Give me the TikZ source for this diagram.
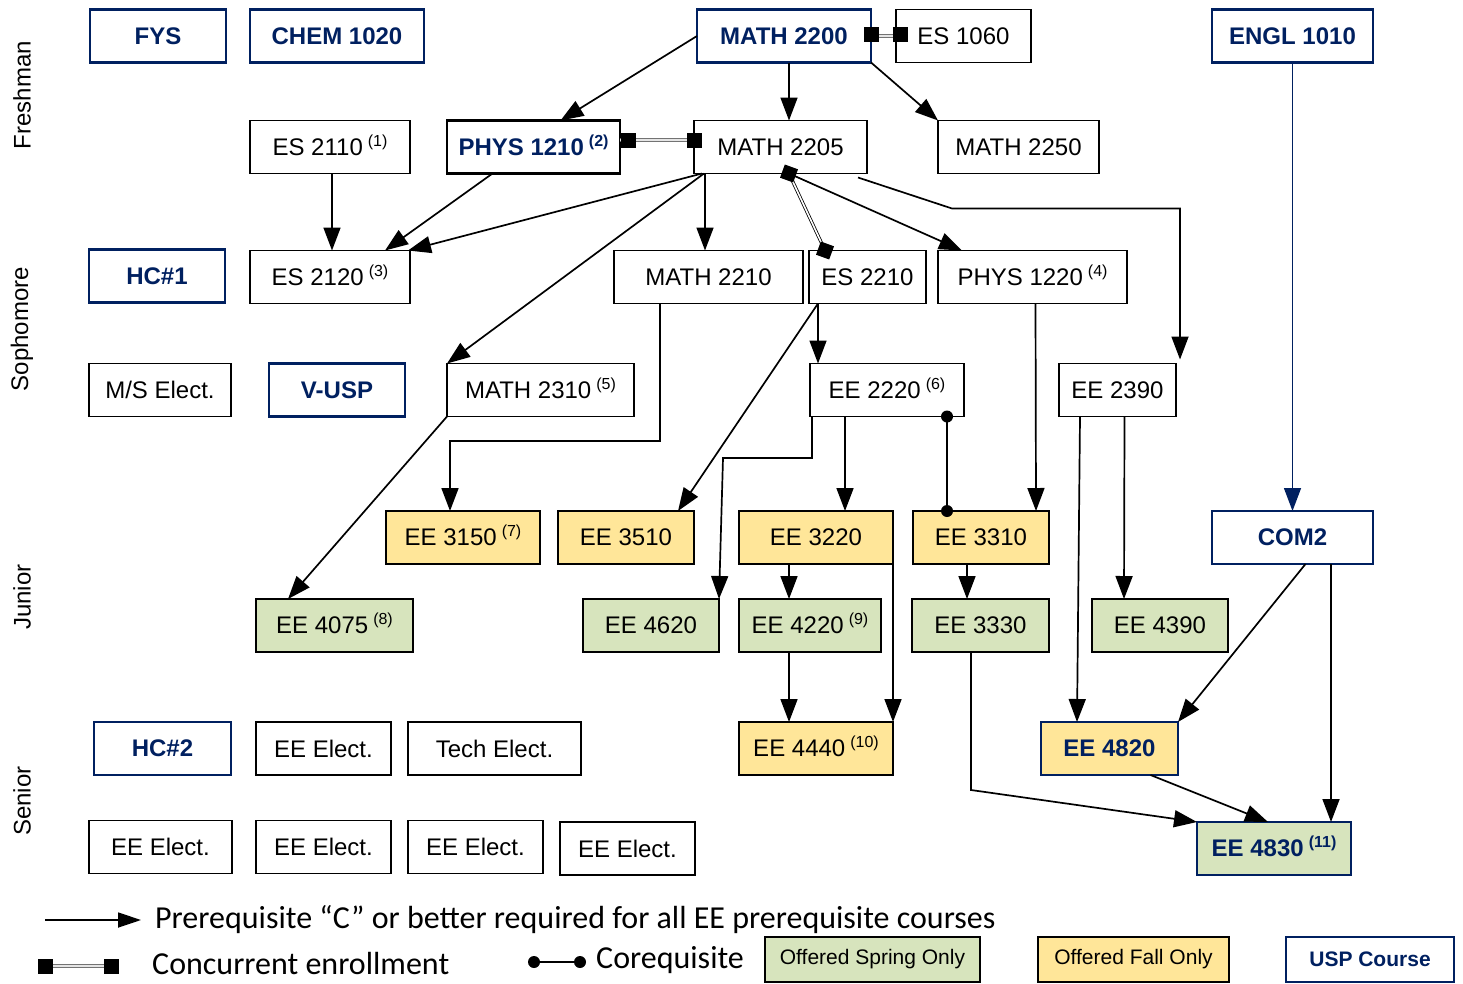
\documentclass[tikz,border=0pt]{standalone}
\usepackage{fontspec}
\setmainfont{Liberation Sans}
\newfontfamily\calib{Carlito}
\usetikzlibrary{arrows.meta,calc,shapes.geometric}
\definecolor{navy}{HTML}{002060}
\definecolor{fallc}{HTML}{FFE699}
\definecolor{springc}{HTML}{D7E4BD}
\newcommand\nsup[1]{\hspace{5pt}\smash{\raisebox{9pt}{\fontsize{16}{16}\selectfont(#1)}}}
\begin{document}
\begin{tikzpicture}[x=1pt,y=-1pt,
  course/.style={draw=black, line width=1.6pt, minimum height=53pt, inner sep=0pt, outer sep=0pt,
    fill=white, font=\fontsize{24}{28}\selectfont, minimum width=#1pt},
  course/.default=136,
  usp/.style={course=#1, draw=navy, line width=2.2pt, text=navy,
    font=\fontsize{24}{28}\selectfont\bfseries},
  usp/.default=136,
  fall/.style={fill=fallc},
  spring/.style={fill=springc},
  pre/.style={line width=1.7pt, -{Triangle[length=23pt,width=17pt]}},
  conc/.style={draw=black!55, double=white!80!gray, double distance=2pt, line width=0.9pt},
  conc2/.style={draw=black, double=white, double distance=1.6pt, line width=0.8pt},
  sq/.style={fill=black, minimum size=15pt, inner sep=0pt},
  dia/.style={diamond, fill=black, minimum size=20pt, inner sep=0pt, rotate=25},
  rowlab/.style={rotate=90, font=\fontsize{24}{28}\selectfont},
  legtxt/.style={anchor=west, font=\calib\fontsize{32}{36}\selectfont, inner sep=0pt},
  legbox/.style={draw=black, line width=1.6pt, minimum height=45pt, inner sep=0pt,
    font=\fontsize{21}{24}\selectfont, minimum width=#1pt}
]
\useasboundingbox (0,0) rectangle (1463,983);

% row labels
\node[rowlab] (lf) at (22,95) {Freshman};
\node[rowlab] (ls) at (22,329) {Sophomore};
\node[rowlab] (lj) at (22,597) {Junior};
\node[rowlab] (lse) at (22,801) {Senior};

% Freshman
\node[usp] (fys) at (158,36) {FYS};
\node[usp=174] (chem) at (337,36) {CHEM 1020};
\node[usp=174] (m2200) at (784,36) {MATH 2200};
\node[course=135] (es1060) at (963.5,36) {ES 1060};
\node[usp=161] (engl) at (1292.5,36) {ENGL 1010};

\node[course=160] (es2110) at (330,147) {ES 2110\nsup{1}};
\node[usp=173, draw=black] (phys1210) at (533.5,147) {PHYS 1210\nsup{2}};
\node[course=173] (m2205) at (780.5,147) {MATH 2205};
\node[course=161] (m2250) at (1018.5,147) {MATH 2250};

% Sophomore
\node[usp] (hc1) at (157,276) {HC\#1};
\node[course=160] (es2120) at (330,277) {ES 2120\nsup{3}};
\node[course=189] (m2210) at (708.5,277) {MATH 2210};
\node[course=117] (es2210) at (867.5,277) {ES 2210};
\node[course=189] (phys1220) at (1032.5,277) {PHYS 1220\nsup{4}};

\node[course=142] (msel) at (160,390) {M/S Elect.};
\node[usp] (vusp) at (337,390) {V-USP};
\node[course=187] (m2310) at (540.5,390) {MATH 2310\nsup{5}};
\node[course=154] (ee2220) at (887,390) {EE 2220\nsup{6}};
\node[course=117] (ee2390) at (1117.5,390) {EE 2390};

% Junior
\node[course=154, fall] (ee3150) at (463,537.5) {EE 3150\nsup{7}};
\node[course=136, fall] (ee3510) at (626,537.5) {EE 3510};
\node[course=154, fall] (ee3220) at (816,537.5) {EE 3220};
\node[course=136, fall] (ee3310) at (981,537.5) {EE 3310};
\node[usp=161] (com2) at (1292.5,537.5) {COM2};

\node[course=157, spring] (ee4075) at (334.5,625.5) {EE 4075\nsup{8}};
\node[course=136, spring] (ee4620) at (651,625.5) {EE 4620};
\node[course=142, spring] (ee4220) at (810,625.5) {EE 4220\nsup{9}};
\node[course=137, spring] (ee3330) at (980.5,625.5) {EE 3330};
\node[course=136, spring] (ee4390) at (1160,625.5) {EE 4390};

% Senior
\node[usp=137] (hc2) at (162.5,748.5) {HC\#2};
\node[course=135] (eeel1) at (323.5,748.5) {EE Elect.};
\node[course=173] (tech) at (494.5,748.5) {Tech Elect.};
\node[course=154, fall] (ee4440) at (816,748.5) {EE 4440\nsup{10}};
\node[usp=137, fall] (ee4820) at (1109.5,748.5) {EE 4820};

\node[course=143] (eeel2) at (160.5,847) {EE Elect.};
\node[course=135] (eeel3) at (323.5,847) {EE Elect.};
\node[course=135] (eeel4) at (475.5,847) {EE Elect.};
\node[course=135] (eeel5) at (627.5,848.5) {EE Elect.};
\node[usp=154, spring] (ee4830) at (1274,848.5) {EE 4830\nsup{11}};

% concurrent links
\draw[conc] (m2200.east) -- (es1060.west);
\node[sq] (sqa) at ($(m2200.east)+(0,-2)$) {};
\node[sq] (sqb) at ($(es1060.west)+(4,-2)$) {};
\draw[conc] ($(phys1210.east)+(0,-7)$) -- ($(m2205.west)+(0,-7)$);
\node[sq] (sqc) at ($(phys1210.east)+(8,-7)$) {};
\node[sq] (sqd) at ($(m2205.west)+(0,-7)$) {};

% prerequisites
\draw[pre] (m2200.west) -- ($(phys1210.north)+(27,0)$);
\draw[pre] ($(m2200.south)+(5,0)$) -- ($(m2205.north)+(8.5,0)$);
\draw[pre] (m2200.south east) -- (m2250.north west);
\draw[pre] ($(es2110.south)+(2,0)$) -- ($(es2120.north)+(2,0)$);
\draw[pre] ($(phys1210.south)+(-41,0)$) -- ($(es2120.north)+(55,0)$);
\draw[pre] ($(m2205.south west)+(8,0)$) -- ($(es2120.north east)+(-2,0)$);
\draw[pre] ($(m2205.south west)+(10,0)$) -- (m2310.north west);
\draw[pre] ($(m2205.south west)+(11,0)$) -- ($(m2210.north)+(-3.5,0)$);

\coordinate (dA) at ($(m2205.south)+(8.5,0)$);
\coordinate (dB) at ($(es2210.north west)+(16,0)$);
\draw[pre] (dA) -- ($(phys1220.north west)+(24,0)$);
\draw[conc2] (dA) -- (dB);
\node[dia] (d1) at (dA) {};
\node[dia] (d2) at (dB) {};

\draw[pre] ($(m2205.south east)+(-9,4)$) -- ($(m2205.south east)+(85,35)$)
  -| ($(ee2390.north east)+(4,-4)$);
\draw[pre] ($(m2210.south)+(-48.5,0)$) |- ($(ee3150.north)+(-13,-70)$)
  -- ($(ee3150.north)+(-13,0)$);
\draw[pre] ($(es2210.south west)+(9,0)$) -- ($(ee2220.north west)+(8,0)$);
\draw[pre] ($(es2210.south west)+(9,0)$) -- ($(ee3510.north east)+(-16,0)$);
\draw[pre] (m2310.south west) -- ($(ee4075.north west)+(32,0)$);
\draw[pre] ($(ee2220.south west)+(2,0)$) |- ($(ee4620.north east)+(4,-141)$)
  -- ($(ee4620.north east)+(0,0)$);
\draw[pre] ($(ee2220.south west)+(35,0)$) -- ($(ee3220.north west)+(106,0)$);

\coordinate (cA) at ($(ee2220.south east)+(-17,0)$);
\coordinate (cB) at ($(ee3310.north west)+(34,0)$);
\draw[line width=1.7pt] (cA) -- (cB);
\fill (cA) circle (6pt);
\fill (cB) circle (6pt);

\draw[pre] ($(phys1220.south)+(3,0)$) -- ($(ee3310.north east)+(-13,0)$);
\draw[pre] ($(ee2390.south west)+(21,0)$) -- ($(ee4820.north west)+(36,0)$);
\draw[pre] ($(ee2390.south)+(7,0)$) -- ($(ee4390.north)+(-36,0)$);
\draw[pre, navy, line width=1.4pt] (engl.south) -- (com2.north);
\draw[pre] ($(ee3220.south west)+(50,0)$) -- ($(ee4220.north west)+(50,0)$);
\draw[pre] (ee3220.south east) -- (ee4440.north east);
\draw[pre] ($(ee4220.south west)+(50,0)$) -- ($(ee4440.north west)+(50,0)$);
\draw[pre] ($(ee3310.south west)+(54,0)$) -- ($(ee3330.north west)+(55,0)$);
\draw[pre] ($(ee3330.south west)+(59,0)$) -- ($(ee3330.south west)+(59,138)$)
  -- (ee4830.north west);
\draw[pre] ($(com2.south)+(13,0)$) -- (ee4820.north east);
\draw[pre] ($(com2.south east)+(-42,0)$) -- ($(ee4830.north east)+(-20,0)$);
\draw[pre] ($(ee4820.south)+(41,0)$) -- ($(ee4830.north)+(-6,0)$);

% legend
\coordinate (la1) at (45,920);
\coordinate (la2) at (141,920);
\draw[line width=1.7pt, -{Triangle[length=23pt,width=15pt]}] (la1) -- (la2);
\node[legtxt] (lt1) at (155,920) {Prerequisite “C” or better required for all EE prerequisite courses};

\coordinate (lc1) at (45,966);
\coordinate (lc2) at (111,966);
\draw[conc] (lc1) -- (lc2);
\node[sq] (lsq1) at (lc1) {};
\node[sq] (lsq2) at (lc2) {};
\node[legtxt] (lt2) at (152,963) {Concurrent enrollment};

\coordinate (lk1) at (534,962);
\coordinate (lk2) at (580,962);
\draw[line width=1.7pt] (lk1) -- (lk2);
\fill (lk1) circle (6pt);
\fill (lk2) circle (6pt);
\node[legtxt] (lt3) at (596,960) {Corequisite};

\node[legbox=215, fill=springc] (lg1) at (872.5,959.5) {Offered Spring Only};
\node[legbox=191, fill=fallc] (lg2) at (1133.5,959.5) {Offered Fall Only};
\node[legbox=168, draw=navy, line width=2.2pt, text=navy, font=\fontsize{21}{24}\selectfont\bfseries] (lg3) at (1370,959.5) {USP Course};
\end{tikzpicture}
\end{document}
